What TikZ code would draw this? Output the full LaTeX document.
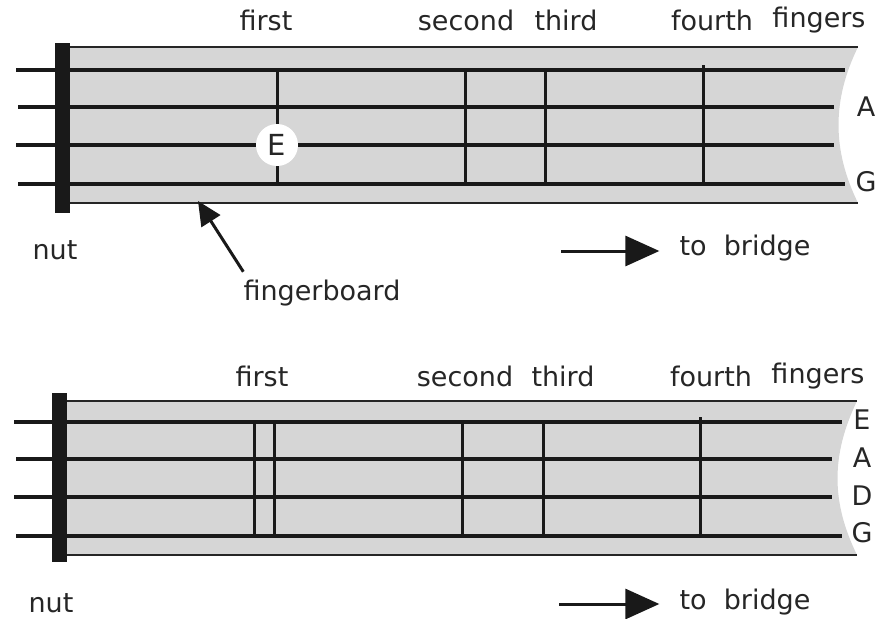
\documentclass[tikz,border=0pt]{standalone}
\usepackage{fontspec}
\setmainfont{DejaVu Sans}
\usetikzlibrary{arrows.meta}
\definecolor{board}{gray}{0.84}
\tikzset{
  lbl/.style={font=\fontsize{27}{30}\selectfont, inner sep=0pt, text=black!85},
  boardfill/.style={fill=board, draw=none},
  edge/.style={line width=2pt, black!85},
  strg/.style={line width=4pt, black!90},
  fret/.style={line width=3pt, black!90},
  nutbar/.style={fill=black!90, draw=none},
  arr/.style={line width=3pt, black!90, -{Triangle[length=34pt,width=30pt]}},
}
\begin{document}
\begin{tikzpicture}[x=1pt,y=-1pt]
\useasboundingbox (0,0) rectangle (880,618);
% ================= TOP =================
\fill[boardfill] (70,47) -- (858,47) .. controls (832,100) and (832,150) .. (858,203) -- (70,203) -- cycle;
\draw[edge] (70,47) -- (858,47);
\draw[edge] (70,203) -- (858,203);
\draw[strg] (16,70) -- (845,70);
\draw[strg] (18,107) -- (834,107);
\draw[strg] (16,145) -- (834,145);
\draw[strg] (18,184) -- (845,184);
\draw[fret] (277,70) -- (277,184);
\draw[fret] (465,70) -- (465,184);
\draw[fret] (545,70) -- (545,184);
\draw[fret] (703,65) -- (703,184);
\fill[nutbar] (55,43) rectangle (70,213);
\node[circle, fill=white, minimum size=42pt, inner sep=0pt, font=\fontsize{29}{30}\selectfont, text=black!85] (e1) at (277,145) {E};
\node[lbl] (t1) at (266,20) {first};
\node[lbl] (t2) at (466,20) {second};
\node[lbl] (t3) at (566,20) {third};
\node[lbl] (t4) at (712,20) {fourth};
\node[lbl] (t5) at (819,20) {fingers};
\node[lbl] (sa1) at (866,107) {A};
\node[lbl] (sg1) at (866,182) {G};
\node[lbl] (nut1) at (55,250) {nut};
\node[lbl] (br1) at (745,248) {to\ \ bridge};
\coordinate (as1) at (561,251);
\draw[arr] (as1) -- ([xshift=-20pt]br1.west |- as1);
\node[lbl] (fb) at (322,293) {fingerboard};
\coordinate (fbtip) at (198,201);
\draw[line width=3pt, black!90, -{Triangle[length=24pt,width=22pt]}] ([shift={(0,-8)}]fb.north west) -- (fbtip);
% ================= BOTTOM =================
\fill[boardfill] (67,401) -- (857,401) .. controls (831,455) and (831,502) .. (857,555) -- (67,555) -- cycle;
\draw[edge] (67,401) -- (857,401);
\draw[edge] (67,555) -- (857,555);
\draw[strg] (14,422) -- (842,422);
\draw[strg] (16,459) -- (832,459);
\draw[strg] (14,497) -- (832,497);
\draw[strg] (16,536) -- (842,536);
\draw[fret] (254,422) -- (254,536);
\draw[fret] (274,422) -- (274,536);
\draw[fret] (462,422) -- (462,536);
\draw[fret] (543,422) -- (543,536);
\draw[fret] (700,417) -- (700,536);
\fill[nutbar] (52,393) rectangle (67,562);
\node[lbl] (b1) at (262,376) {first};
\node[lbl] (b2) at (465,376) {second};
\node[lbl] (b3) at (563,376) {third};
\node[lbl] (b4) at (711,376) {fourth};
\node[lbl] (b5) at (818,376) {fingers};
\node[lbl] (se2) at (862,420) {E};
\node[lbl] (sa2) at (862,458) {A};
\node[lbl] (sd2) at (862,496) {D};
\node[lbl] (sg2) at (862,533) {G};
\node[lbl] (nut2) at (51,603) {nut};
\node[lbl] (br2) at (745,602) {to\ \ bridge};
\coordinate (as2) at (559,604);
\draw[arr] (as2) -- ([xshift=-20pt]br2.west |- as2);
\end{tikzpicture}
\end{document}
